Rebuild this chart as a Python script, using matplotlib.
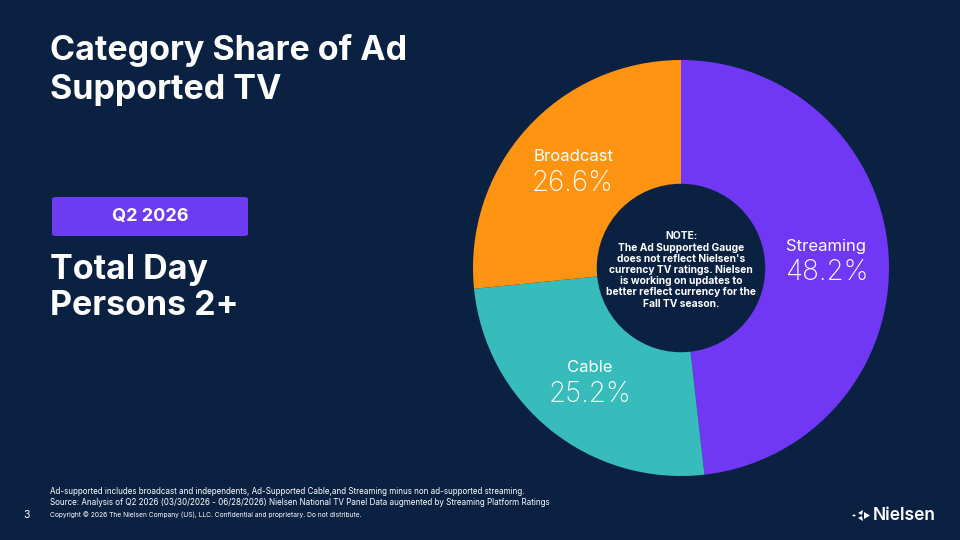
import numpy as np
import matplotlib
matplotlib.use("Agg")
import matplotlib.pyplot as plt
from matplotlib.patches import FancyBboxPatch, Polygon, Circle

plt.rcParams['font.family'] = ['Inter', 'DejaVu Sans']

# data
categories = ['Streaming', 'Cable', 'Broadcast']
shares = [48.2, 25.2, 26.6]
colors = ['#7038F5', '#38BBBB', '#FF9412']
period = 'Q2 2026'
title = 'Category Share of Ad\nSupported TV'
audience = 'Total Day\nPersons 2+'
note = ("NOTE:\nThe Ad Supported Gauge\ndoes not reflect Nielsen's\n"
        "currency TV ratings. Nielsen\nis working on updates to\n"
        "better reflect currency for the\nFall TV season.")
footnote = ("Ad-supported includes broadcast and independents, Ad-Supported Cable,"
            "and Streaming minus non ad-supported streaming.\n"
            "Source: Analysis of Q2 2026 (03/30/2026 - 06/28/2026) Nielsen National "
            "TV Panel Data augmented by Streaming Platform Ratings")
copyright_txt = ("Copyright \u00a9 2026 The Nielsen Company (US), LLC. "
                 "Confidential and proprietary. Do not distribute.")

BG = '#0A2142'
W, H = 960, 540

fig = plt.figure(figsize=(9.6, 5.4), dpi=100)
fig.patch.set_facecolor(BG)


def fx(px):
    return px / W


def fy(py):
    return 1 - py / H


# donut
cx, cy, r = 681, 268, 208
ax = fig.add_axes([fx(cx - r), fy(cy + r), 2 * r / W, 2 * r / H])
ax.set_facecolor(BG)
wedges, _ = ax.pie(shares, colors=colors, startangle=90, counterclock=False,
                   radius=1.0, wedgeprops=dict(width=0.6, linewidth=0))
ax.add_patch(Circle((0, 0), 0.405, facecolor=BG, edgecolor='none', zorder=3))
ax.set_xlim(-1, 1)
ax.set_ylim(-1, 1)
ax.set_aspect('equal')
ax.axis('off')

# slice labels at mid angle
for w, name, val in zip(wedges, categories, shares):
    ang = np.deg2rad((w.theta1 + w.theta2) / 2)
    lx, ly = 0.70 * np.cos(ang), 0.70 * np.sin(ang)
    ax.text(lx, ly + 0.065, name, color='white', fontsize=12,
            ha='center', va='center', zorder=4)
    ax.text(lx, ly - 0.062, f'{val:.1f}%', color='white', fontsize=20,
            fontweight='light', ha='center', va='center', zorder=4)

ax.text(0, -0.01, note, color='white', fontsize=7.4, fontweight='bold',
        ha='center', va='center', linespacing=1.15, zorder=4)

# left side text
fig.text(fx(50), fy(34), title, color='white', fontsize=24.5,
         fontweight='bold', ha='left', va='top', linespacing=1.3)

badge = FancyBboxPatch((fx(52), fy(236)), fx(196), 39 / H,
                       boxstyle='round,pad=0,rounding_size=0.004',
                       transform=fig.transFigure, facecolor='#6E3CF0',
                       edgecolor='none')
fig.patches.append(badge)
fig.text(fx(150), fy(216.5), period, color='white', fontsize=13,
         fontweight='bold', ha='center', va='center')

fig.text(fx(50), fy(254), audience, color='white', fontsize=24.5,
         fontweight='bold', ha='left', va='top', linespacing=1.15)

# footer
fig.text(fx(50), fy(487), footnote, color='white', fontsize=5.8,
         ha='left', va='top', linespacing=1.3)
fig.text(fx(50), fy(515), copyright_txt, color='white', fontsize=4.8,
         ha='left', va='center')
fig.text(fx(26), fy(515), '3', color='white', fontsize=7.5,
         ha='center', va='center')

# logo
fig.text(fx(873), fy(515), 'Nielsen', color='white', fontsize=12.5,
         fontweight='semibold', ha='left', va='center')
logo_shapes = [
    Circle((fx(854), fy(515.5)), 1.6 / W, transform=fig.transFigure),
    Polygon([(fx(858), fy(513)), (fx(863), fy(510)), (fx(862), fy(515))],
            closed=True, transform=fig.transFigure),
    Polygon([(fx(858), fy(518)), (fx(862), fy(516)), (fx(863), fy(521))],
            closed=True, transform=fig.transFigure),
    Polygon([(fx(864), fy(512)), (fx(870), fy(515.5)), (fx(864), fy(519))],
            closed=True, transform=fig.transFigure),
]
for s in logo_shapes:
    s.set_facecolor('white')
    s.set_edgecolor('none')
    fig.patches.append(s)

fig.savefig('out.png', dpi=100, facecolor=BG)
